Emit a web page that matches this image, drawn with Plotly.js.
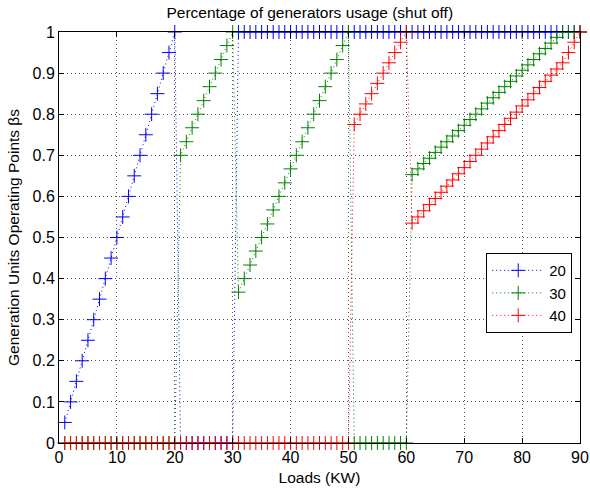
<!DOCTYPE html>
<html>
<head>
<meta charset="utf-8">
<script src="https://cdn.plot.ly/plotly-3.0.1.min.js"></script>
<style>html,body{margin:0;padding:0;background:#fff;}#chart{width:590px;height:489px;}</style>
</head>
<body>
<div id="chart"></div>
<script>
const loads = [1,2,3,4,5,6,7,8,9,10,11,12,13,14,15,16,17,18,19,20,21,22,23,24,25,26,27,28,29,30,31,32,33,34,35,36,37,38,39,40,41,42,43,44,45,46,47,48,49,50,51,52,53,54,55,56,57,58,59,60,61,62,63,64,65,66,67,68,69,70,71,72,73,74,75,76,77,78,79,80,81,82,83,84,85,86,87,88,89,90];

const gen20 = [0.05,0.1,0.15,0.2,0.25,0.3,0.35,0.4,0.45,0.5,0.55,0.6,0.65,0.7,0.75,0.8,0.85,0.9,0.95,1,
  0,0,0,0,0,0,0,0,0,0,
  1,1,1,1,1,1,1,1,1,1,1,1,1,1,1,1,1,1,1,1,
  1,1,1,1,1,1,1,1,1,1,
  1,1,1,1,1,1,1,1,1,1,1,1,1,1,1,1,1,1,1,1,1,1,1,1,1,1,1,1,1,1];

const gen30 = [0,0,0,0,0,0,0,0,0,0,0,0,0,0,0,0,0,0,0,0,
  0.7,0.733,0.767,0.8,0.833,0.867,0.9,0.933,0.967,1,
  0.367,0.4,0.433,0.467,0.5,0.533,0.567,0.6,0.633,0.667,0.7,0.733,0.767,0.8,0.833,0.867,0.9,0.933,0.967,1,
  0,0,0,0,0,0,0,0,0,0,
  0.653,0.667,0.68,0.693,0.707,0.72,0.733,0.747,0.76,0.773,0.787,0.8,0.813,0.827,0.84,0.853,0.867,0.88,0.893,0.907,0.92,0.933,0.947,0.96,0.973,0.987,1,1,1,1];

const gen40 = [0,0,0,0,0,0,0,0,0,0,0,0,0,0,0,0,0,0,0,0,
  0,0,0,0,0,0,0,0,0,0,
  0,0,0,0,0,0,0,0,0,0,0,0,0,0,0,0,0,0,0,0,
  0.775,0.8,0.825,0.85,0.875,0.9,0.925,0.95,0.975,1,
  0.535,0.55,0.565,0.58,0.595,0.61,0.625,0.64,0.655,0.67,0.685,0.7,0.715,0.73,0.745,0.76,0.775,0.79,0.805,0.82,0.835,0.85,0.865,0.88,0.895,0.91,0.925,0.95,0.975,1];

const seriesNames = ['20','30','40'];
const seriesColors = ['#0000ff','#008000','#ff0000'];
const seriesData = [gen20, gen30, gen40];

const xTicks = [0,10,20,30,40,50,60,70,80,90];
const yTicks = [0,0.1,0.2,0.3,0.4,0.5,0.6,0.7,0.8,0.9,1];
const yTickText = ['0','0.1','0.2','0.3','0.4','0.5','0.6','0.7','0.8','0.9','1'];

const traces = seriesData.map((ys, i) => ({
  x: loads, y: ys, name: seriesNames[i], type: 'scatter', mode: 'lines+markers',
  cliponaxis: false,
  line: {color: seriesColors[i], width: 1, dash: '1px,3px'},
  marker: {symbol: 'cross-thin', size: 10, color: seriesColors[i], line: {color: seriesColors[i], width: 1}}
}));

const fam = 'Liberation Sans, Arial, Helvetica, sans-serif';
const font = {family: fam, size: 16, color: '#000'};
const axisCommon = {
  showline: true, linecolor: '#000', linewidth: 1, mirror: 'ticks',
  ticks: 'inside', ticklen: 5, tickcolor: '#000', tickwidth: 1,
  showgrid: true, gridcolor: '#555', griddash: '1px,3px', gridwidth: 1,
  zeroline: false, tickfont: font
};

const layout = {
  width: 590, height: 489,
  margin: {l: 59, r: 10, t: 32, b: 46},
  paper_bgcolor: '#fff', plot_bgcolor: '#fff',
  font: font,
  showlegend: true,
  title: {text: 'Percentage of generators usage (shut off)', font: {family: fam, size: 15.5, color: '#000'}, x: 0.525, xanchor: 'center', y: 0.974, yanchor: 'middle'},
  xaxis: Object.assign({}, axisCommon, {range: [0, 90], tickvals: xTicks, ticktext: xTicks.map(String),
    title: {text: 'Loads (KW)', font: {family: fam, size: 15.5, color: '#000'}, standoff: 6}}),
  yaxis: Object.assign({}, axisCommon, {range: [0, 1], tickvals: yTicks, ticktext: yTickText,
    title: {text: 'Generation Units Operating Points βs', font: {family: fam, size: 15.5, color: '#000'}, standoff: 9}}),
  legend: {x: 0.82, y: 0.462, xanchor: 'left', yanchor: 'top', bgcolor: '#fff', bordercolor: '#000', borderwidth: 1,
    font: {family: fam, size: 15, color: '#000'}, itemwidth: 52}
};

Plotly.newPlot('chart', traces, layout, {displayModeBar: false, staticPlot: true});
</script>
</body>
</html>
